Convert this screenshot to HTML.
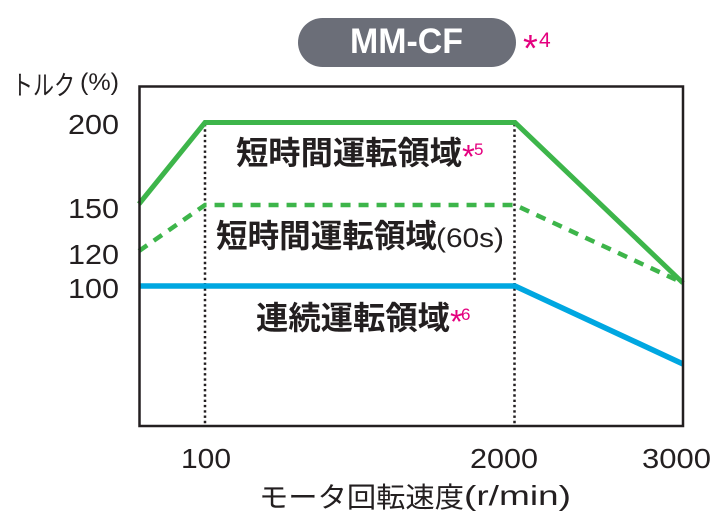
<!DOCTYPE html>
<html><head><meta charset="utf-8"><style>
html,body{margin:0;padding:0;background:#fff;}
svg{display:block;}
</style></head><body>
<svg width="726" height="530" viewBox="0 0 726 530" xmlns="http://www.w3.org/2000/svg">
<rect x="0" y="0" width="726" height="530" fill="#fff"/>
<!-- pill -->
<rect x="298" y="18" width="218" height="49" rx="24.5" ry="24.5" fill="#6b6e78"/>
<text x="350" y="53" font-family="Liberation Sans, sans-serif" font-weight="bold" font-size="35" fill="#fff" textLength="113" lengthAdjust="spacingAndGlyphs">MM-CF</text>
<text x="523" y="61" font-family="Liberation Sans, sans-serif" font-size="38" fill="#e4007f">*</text>
<text x="539" y="47" font-family="Liberation Sans, sans-serif" font-size="21" fill="#e4007f">4</text>

<!-- y axis title -->
<text x="12" y="95" font-family="Liberation Sans, Noto Sans CJK JP, sans-serif" font-size="27" fill="#231f20" textLength="63" lengthAdjust="spacingAndGlyphs">トルク</text>
<text x="80" y="90" font-family="Liberation Sans, sans-serif" font-size="24" fill="#231f20" textLength="39" lengthAdjust="spacingAndGlyphs">(%)</text>

<!-- y ticks -->
<g font-family="Liberation Sans, sans-serif" font-size="28" fill="#231f20">
<text x="68" y="134" textLength="51" lengthAdjust="spacingAndGlyphs">200</text>
<text x="68" y="218" textLength="51" lengthAdjust="spacingAndGlyphs">150</text>
<text x="68" y="264" textLength="51" lengthAdjust="spacingAndGlyphs">120</text>
<text x="68" y="298" textLength="51" lengthAdjust="spacingAndGlyphs">100</text>
<text x="181" y="468" textLength="50" lengthAdjust="spacingAndGlyphs">100</text>
<text x="470" y="468" textLength="68" lengthAdjust="spacingAndGlyphs">2000</text>
<text x="642" y="468" textLength="69" lengthAdjust="spacingAndGlyphs">3000</text>
</g>

<!-- x axis title -->
<text x="259" y="507" font-family="Liberation Sans, Noto Sans CJK JP, sans-serif" font-size="28" fill="#231f20" textLength="205" lengthAdjust="spacingAndGlyphs">モータ回転速度</text>
<text x="464" y="505" font-family="Liberation Sans, sans-serif" font-size="28" fill="#231f20" textLength="107" lengthAdjust="spacingAndGlyphs">(r/min)</text>

<!-- dotted verticals -->
<line x1="205" y1="124" x2="205" y2="425" stroke="#231f20" stroke-width="2.5" stroke-dasharray="2.4 2.9"/>
<line x1="514.5" y1="124" x2="514.5" y2="425" stroke="#231f20" stroke-width="2.5" stroke-dasharray="2.4 2.9"/>

<!-- series -->
<polyline points="139,204 205,122.5 515,122.5 683,283" fill="none" stroke="#3db54a" stroke-width="5" stroke-linejoin="miter"/>
<polyline points="139,251 205,205 515,205 683,283" fill="none" stroke="#3db54a" stroke-width="4.5" stroke-dasharray="10 8"/>
<polyline points="139,286 515,286 683,364" fill="none" stroke="#00a7e1" stroke-width="5.5"/>

<!-- frame -->
<rect x="139.5" y="86.5" width="543.5" height="339.5" fill="none" stroke="#231f20" stroke-width="2.5"/>

<!-- region labels -->
<g font-family="Liberation Sans, Noto Sans CJK JP, sans-serif" font-weight="bold" font-size="32" fill="#231f20">
<text x="236" y="164" textLength="226" lengthAdjust="spacingAndGlyphs">短時間運転領域</text>
<text x="216" y="247" textLength="221" lengthAdjust="spacingAndGlyphs">短時間運転領域</text>
<text x="256" y="329" textLength="194" lengthAdjust="spacingAndGlyphs">連続運転領域</text>
</g>
<text x="436" y="247" font-family="Liberation Sans, sans-serif" font-size="27" fill="#231f20" textLength="68" lengthAdjust="spacingAndGlyphs">(60s)</text>

<text x="462" y="168" font-family="Liberation Sans, sans-serif" font-size="33" fill="#e4007f">*</text>
<text x="474" y="155" font-family="Liberation Sans, sans-serif" font-size="17" fill="#e4007f">5</text>
<text x="450" y="333" font-family="Liberation Sans, sans-serif" font-size="33" fill="#e4007f">*</text>
<text x="461" y="320" font-family="Liberation Sans, sans-serif" font-size="17" fill="#e4007f">6</text>
</svg>
</body></html>
